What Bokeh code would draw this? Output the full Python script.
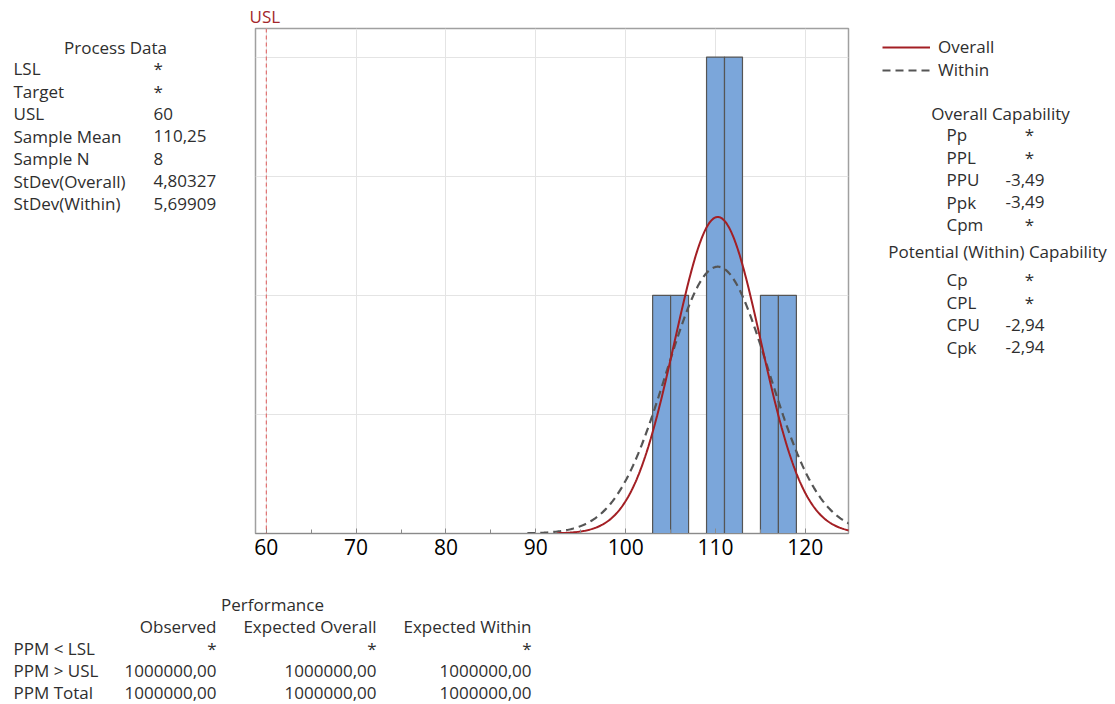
import numpy as np
from bokeh.plotting import figure
from bokeh.layouts import row, column
from bokeh.models import Range1d, FixedTicker, Span, Legend, LegendItem
from bokeh.core.properties import value
from bokeh.embed import file_html
from bokeh.resources import INLINE

# ---------------- data ----------------
bin_left = [103, 105, 109, 111, 115, 117]
bin_right = [105, 107, 111, 113, 117, 119]
bin_count = [1, 1, 2, 2, 1, 1]
bin_width = 2

sample_mean = 110.25
sample_n = 8
stdev_overall = 4.80327
stdev_within = 5.69909
usl = 60

x_ticks = [60, 70, 80, 90, 100, 110, 120]
y_grid = [0.5, 1.0, 1.5, 2.0]

process_labels = ["LSL", "Target", "USL", "Sample Mean", "Sample N", "StDev(Overall)", "StDev(Within)"]
process_values = ["*", "*", "60", "110,25", "8", "4,80327", "5,69909"]

overall_labels = ["Pp", "PPL", "PPU", "Ppk", "Cpm"]
overall_values = ["*", "*", "-3,49", "-3,49", "*"]
within_labels = ["Cp", "CPL", "CPU", "Cpk"]
within_values = ["*", "*", "-2,94", "-2,94"]

perf_headers = ["Observed", "Expected Overall", "Expected Within"]
perf_rows = ["PPM < LSL", "PPM > USL", "PPM Total"]
perf_observed = ["*", "1000000,00", "1000000,00"]
perf_exp_overall = ["*", "1000000,00", "1000000,00"]
perf_exp_within = ["*", "1000000,00", "1000000,00"]

# ---------------- layout constants ----------------
TXT = "#2e2e2e"
FONT = "Open Sans"
FS = "17px"
TOP_H = 580          # height of the upper row
LEFT_W = 245         # left text panel width
MAIN_W = 608         # main plot width (frame 255..848 on page)
RIGHT_W = 1115 - LEFT_W - MAIN_W
BOTTOM_H = 704 - TOP_H
FRAME_TOP, FRAME_BOT = 28, 533   # main frame on the page (row aligns frames)


def text_panel(w, h, y0, y1):
    f = figure(width=w, height=h, output_backend="svg", toolbar_location=None,
               x_range=Range1d(0, w), y_range=Range1d(y1, y0),
               x_axis_location=None, y_axis_location=None,
               min_border=0, outline_line_color=None)
    f.grid.visible = False
    f.background_fill_color = "white"
    f.border_fill_color = "white"
    return f


def put(f, xs, ys, texts, align="left", size=FS, color=TXT):
    f.text(x=xs, y=ys, text=texts, text_align=align, text_baseline="middle",
           text_font=value(FONT), text_font_size=size, text_color=color)


# ---------------- main plot ----------------
p = figure(width=MAIN_W, height=TOP_H, output_backend="svg", toolbar_location=None,
           x_range=Range1d(58.8, 124.8), y_range=Range1d(0, 2.12),
           y_axis_location=None,
           min_border_left=10, min_border_right=5,
           min_border_top=FRAME_TOP, min_border_bottom=TOP_H - FRAME_BOT)
p.background_fill_color = "white"
p.border_fill_color = "white"
p.outline_line_color = "#a0a0a0"
p.outline_line_width = 1.5

p.title.text = "USL"
p.title.align = "left"
p.title.offset = -6
p.title.standoff = 2
p.title.text_font = FONT
p.title.text_font_size = "17px"
p.title.text_font_style = "normal"
p.title.text_color = "#a3262b"

p.xgrid.ticker = FixedTicker(ticks=x_ticks)
p.ygrid.ticker = FixedTicker(ticks=y_grid)
p.xgrid.grid_line_color = "#e4e4e4"
p.ygrid.grid_line_color = "#e4e4e4"

p.xaxis.ticker = FixedTicker(ticks=x_ticks, minor_ticks=[t + 5 for t in x_ticks])
p.xaxis.axis_line_color = "#8a8a8a"
p.xaxis.major_tick_line_color = "#8a8a8a"
p.xaxis.minor_tick_line_color = "#8a8a8a"
p.xaxis.major_tick_in = 5
p.xaxis.major_tick_out = 0
p.xaxis.minor_tick_in = 4
p.xaxis.minor_tick_out = 0
p.xaxis.major_label_text_font = FONT
p.xaxis.major_label_text_font_size = "21px"
p.xaxis.major_label_text_color = "#000000"
p.xaxis.major_label_standoff = 5

p.quad(left=bin_left, right=bin_right, bottom=0, top=bin_count,
       fill_color="#7ba6da", line_color="#555555", line_width=1.2)


def normal_curve(mu, sd):
    xs = np.linspace(mu - 3.72 * sd, mu + 3.72 * sd, 300)
    ys = sample_n * bin_width * np.exp(-0.5 * ((xs - mu) / sd) ** 2) / (sd * np.sqrt(2 * np.pi))
    return xs, ys


xw, yw = normal_curve(sample_mean, stdev_within)
xo, yo = normal_curve(sample_mean, stdev_overall)
p.line(xw, yw, line_color="#555555", line_width=2.2, line_dash="8 5")
p.line(xo, yo, line_color="#a31f24", line_width=2)

p.add_layout(Span(location=usl, dimension="height", line_color="#e05a5a",
                  line_dash="4 3", line_width=1))

# ---------------- left panel: process data ----------------
left = text_panel(LEFT_W, TOP_H, FRAME_TOP, FRAME_BOT)
put(left, [115], [47], ["Process Data"], align="center")
ys = [68 + i * 22.5 for i in range(len(process_labels))]
put(left, [13] * len(ys), ys, process_labels)
put(left, [153] * len(ys), ys, process_values)

# ---------------- right panel: legend + capability ----------------
right = text_panel(RIGHT_W, TOP_H, FRAME_TOP, FRAME_BOT)
ox = LEFT_W + MAIN_W  # page x of right panel
lo = right.line(x=[np.nan], y=[np.nan], line_color="#a31f24", line_width=2)
lw = right.line(x=[np.nan], y=[np.nan], line_color="#555555", line_width=2.2, line_dash="8 5")
legend = Legend(items=[LegendItem(label="Overall", renderers=[lo]),
                       LegendItem(label="Within", renderers=[lw])],
                location=(882 - ox, FRAME_BOT - 81), orientation="vertical",
                glyph_width=48, glyph_height=18, label_height=18, spacing=-2,
                padding=0, margin=0, label_standoff=8,
                border_line_color=None, background_fill_alpha=0,
                label_text_font=FONT, label_text_font_size=FS,
                label_text_color=TXT)
right.add_layout(legend)

put(right, [1000 - ox], [113], ["Overall Capability"], align="center")
ys = [134 + i * 22.5 for i in range(len(overall_labels))]
put(right, [946 - ox] * len(ys), ys, overall_labels)
star_y = [y for y, v in zip(ys, overall_values) if v == "*"]
num_y = [y for y, v in zip(ys, overall_values) if v != "*"]
put(right, [1029 - ox] * len(star_y), star_y, [v for v in overall_values if v == "*"], align="center")
put(right, [1005 - ox] * len(num_y), num_y, [v for v in overall_values if v != "*"])

put(right, [997 - ox], [251], ["Potential (Within) Capability"], align="center")
ys = [279 + i * 22.5 for i in range(len(within_labels))]
put(right, [946 - ox] * len(ys), ys, within_labels)
star_y = [y for y, v in zip(ys, within_values) if v == "*"]
num_y = [y for y, v in zip(ys, within_values) if v != "*"]
put(right, [1029 - ox] * len(star_y), star_y, [v for v in within_values if v == "*"], align="center")
put(right, [1005 - ox] * len(num_y), num_y, [v for v in within_values if v != "*"])

# ---------------- bottom panel: performance ----------------
oy = TOP_H
bottom = text_panel(1115, BOTTOM_H, 0, BOTTOM_H)
put(bottom, [272], [604 - oy], ["Performance"], align="center")
col_right = [216, 376, 531]
put(bottom, col_right, [626 - oy] * 3, perf_headers, align="right")
ys = [648 - oy + i * 22 for i in range(len(perf_rows))]
put(bottom, [13] * len(ys), ys, perf_rows)
for col, X in zip([perf_observed, perf_exp_overall, perf_exp_within], col_right):
    put(bottom, [X] * len(ys), ys, col, align="right")

layout = column(row(left, p, right, spacing=0), bottom, spacing=0)
open("out.html", "w").write(file_html(layout, INLINE))
